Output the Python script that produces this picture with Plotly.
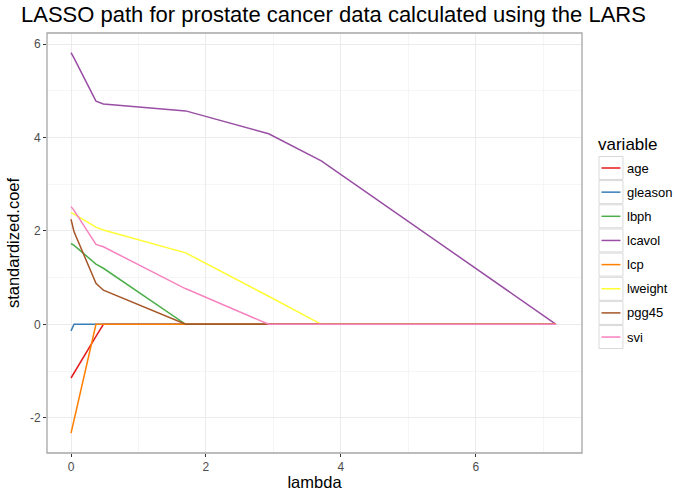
import plotly.graph_objects as go

# LARS breakpoints (lambda) and the standardized coefficients at each one
lambdas = [7.19, 3.71, 2.93, 1.705, 1.70, 0.48, 0.37, 0.045, 0.0]

age = [0.0, 0.0, 0.0, 0.0, 0.0, 0.0, -0.26, -1.04, -1.15]
gleason = [0.0, 0.0, 0.0, 0.0, 0.0, 0.0, 0.0, 0.0, -0.14]
lbph = [0.0, 0.0, 0.0, 0.0, 0.0, 1.20, 1.29, 1.69, 1.73]
lcavol = [0.0, 3.50, 4.08, 4.57, 4.57, 4.72, 4.78, 5.70, 5.82]
lcp = [0.0, 0.0, 0.0, 0.0, 0.0, 0.0, 0.0, -2.05, -2.33]
lweight = [0.0, 0.0, 0.60, 1.53, 1.53, 2.02, 2.08, 2.36, 2.39]
pgg45 = [0.0, 0.0, 0.0, 0.0, 0.0, 0.73, 0.88, 1.98, 2.25]
svi = [0.0, 0.0, 0.0, 0.76, 0.76, 1.66, 1.71, 2.44, 2.52]

variables = ["age", "gleason", "lbph", "lcavol", "lcp", "lweight", "pgg45", "svi"]
series = [age, gleason, lbph, lcavol, lcp, lweight, pgg45, svi]
colors = ["#E41A1C", "#377EB8", "#4DAF4A", "#984EA3",
          "#FF7F00", "#FFFF33", "#A65628", "#F781BF"]

x_ticks = [0, 2, 4, 6]
x_tick_labels = ["0", "2", "4", "6"]
y_ticks = [-2, 0, 2, 4, 6]
y_tick_labels = ["-2", "0", "2", "4", "6"]

FONT = "Liberation Sans, Arial, sans-serif"
W, H = 675, 491
L, R, T, B = 47, 92.5, 33, 38

fig = go.Figure()
for name, vals, col in zip(variables, series, colors):
    fig.add_trace(go.Scatter(
        x=lambdas, y=vals, mode="lines", name=name,
        line=dict(color=col, width=1.5), showlegend=False,
    ))

axis_common = dict(
    showline=False, zeroline=False, showgrid=True, automargin=False,
    gridcolor="#ebebeb", gridwidth=1.1,
    ticks="outside", ticklen=3, tickwidth=1, tickcolor="#333333",
    tickfont=dict(family=FONT, size=12, color="#4d4d4d"),
    title_font=dict(family=FONT, size=16.5, color="#000000"),
)

fig.update_xaxes(
    range=[-0.356, 7.575], tickmode="array",
    tickvals=x_ticks, ticktext=x_tick_labels,
    minor=dict(tickvals=[1, 3, 5, 7], showgrid=True,
               gridcolor="#f5f5f5", gridwidth=0.7, ticklen=0),
    title=dict(text="lambda", standoff=3),
    **axis_common,
)
fig.update_yaxes(
    range=[-2.756, 6.238], tickmode="array",
    tickvals=y_ticks, ticktext=y_tick_labels,
    minor=dict(tickvals=[-1, 1, 3, 5], showgrid=True,
               gridcolor="#f5f5f5", gridwidth=0.7, ticklen=0),
    title=dict(text="standardized.coef", standoff=6),
    **axis_common,
)

# panel border
shapes = [dict(type="rect", xref="paper", yref="paper", x0=0, x1=1, y0=0, y1=1,
               line=dict(color="#a6a6a6", width=1.3), fillcolor="rgba(0,0,0,0)",
               layer="above")]

pw, ph = W - L - R, H - T - B


def px_x(px):
    return (px - L) / pw


def px_y(py):
    return 1 - (py - T) / ph


annotations = [dict(
    text="LASSO path for prostate cancer data calculated using the LARS",
    xref="paper", yref="paper", x=px_x(334), y=px_y(15),
    xanchor="center", yanchor="middle", showarrow=False,
    font=dict(family=FONT, size=22, color="#000000"),
)]

# legend drawn beside the panel: title, key boxes with line samples, labels
annotations.append(dict(
    text="variable", xref="paper", yref="paper", x=px_x(597), y=px_y(145),
    xanchor="left", yanchor="middle", showarrow=False,
    font=dict(family=FONT, size=17, color="#000000"),
))
row_gap = 24.15
for i, (name, col) in enumerate(zip(variables, colors)):
    cy = 168 + i * row_gap
    shapes.append(dict(type="rect", xref="paper", yref="paper",
                       x0=px_x(599.5), x1=px_x(623.5),
                       y0=px_y(cy - 11.5), y1=px_y(cy + 11.5),
                       line=dict(color="#d9d9d9", width=1), fillcolor="white"))
    shapes.append(dict(type="line", xref="paper", yref="paper",
                       x0=px_x(602), x1=px_x(621), y0=px_y(cy), y1=px_y(cy),
                       line=dict(color=col, width=1.5)))
    annotations.append(dict(
        text=name, xref="paper", yref="paper", x=px_x(626), y=px_y(cy),
        xanchor="left", yanchor="middle", showarrow=False,
        font=dict(family=FONT, size=13, color="#000000"),
    ))

fig.update_layout(
    width=W, height=H,
    margin=dict(l=L, r=R, t=T, b=B),
    paper_bgcolor="white", plot_bgcolor="white",
    shapes=shapes, annotations=annotations,
    showlegend=False,
)

fig.write_html("out.html")
